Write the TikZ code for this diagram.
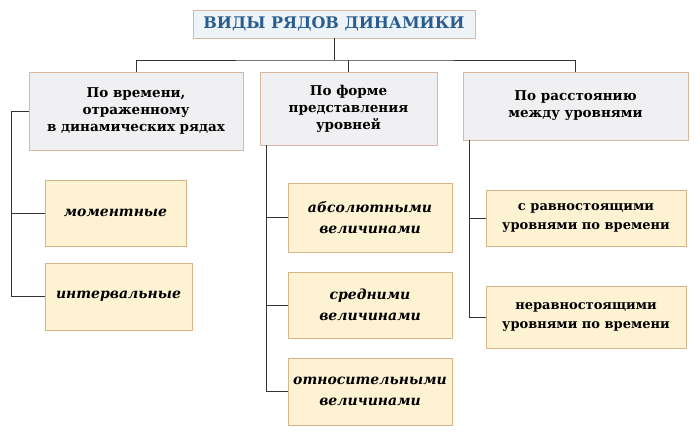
\documentclass[tikz,border=0pt]{standalone}
\usepackage{fontspec}
\setmainfont{DejaVu Serif}
\usetikzlibrary{positioning}
\definecolor{titleblue}{HTML}{2A5D8F}
\definecolor{titlefill}{HTML}{EEF3F7}
\definecolor{catfill}{HTML}{F0F0F2}
\definecolor{catline}{HTML}{D8B8A0}
\definecolor{leaffill}{HTML}{FDF3D2}
\definecolor{leafline}{HTML}{D8B48A}
\tikzset{
  titlebox/.style={draw=catline, fill=titlefill, text=titleblue, font=\bfseries\fontsize{16}{18}\selectfont,
    minimum width=282pt, minimum height=28pt, inner sep=0pt},
  catbox/.style={draw=catline, fill=catfill, font=\bfseries\fontsize{13.5}{17}\selectfont, align=center, inner sep=0pt},
  leafbox/.style={draw=leafline, fill=leaffill, font=\bfseries\itshape\fontsize{14}{21}\selectfont, align=center, inner sep=0pt},
  link/.style={draw=black!80, line width=0.8pt}
}
\begin{document}
\begin{tikzpicture}[x=1pt,y=-1pt]
  \useasboundingbox (0,0) rectangle (700,435);
  %% title
  \node[titlebox] (title) at (334,24) {ВИДЫ РЯДОВ ДИНАМИКИ};

  %% categories
  \node[catbox, minimum width=214pt, minimum height=78pt] (time) at (136,111)
    {По времени,\\отраженному\\в динамических рядах};
  \node[catbox, minimum width=177pt, minimum height=73pt] (form) at (348.5,108.5)
    {По форме\\представления\\уровней};
  \node[catbox, minimum width=225pt, minimum height=68pt] (dist) at (575.5,106)
    {По расстоянию\\между уровнями};

  %% leaves
  \node[leafbox, minimum width=141pt, minimum height=66pt] (moment) at (115.5,213) {моментные};
  \node[leafbox, minimum width=147pt, minimum height=67pt] (interval) at (118.5,296.5) {интервальные};

  \node[leafbox, minimum width=164pt, minimum height=69pt] (absval) at (370,217.5) {абсолютными\\величинами};
  \node[leafbox, minimum width=164pt, minimum height=66pt] (avgval) at (370,305) {средними\\величинами};
  \node[leafbox, minimum width=164pt, minimum height=67pt] (relval) at (370,391.5) {относительными\\величинами};

  \node[leafbox, font=\bfseries\fontsize{13}{19}\selectfont, minimum width=200pt, minimum height=56pt] (equal) at (586,218)
    {с равностоящими\\уровнями по времени};
  \node[leafbox, font=\bfseries\fontsize{13}{19}\selectfont, minimum width=200pt, minimum height=62pt] (unequal) at (586,317)
    {неравностоящими\\уровнями по времени};

  %% tree lines
  \coordinate (bus) at (334,60);
  \draw[link] (title.south) -- (bus);
  \draw[link] (time.north) |- (bus) -| (dist.north);
  \draw[link] (form.north) -- (form.north |- bus);

  \draw[link] (time.west) -- ++(-17,0) coordinate (tb) |- (interval.west);
  \draw[link] (moment.west) -- (moment.west -| tb);

  \coordinate (fb) at (266,145);
  \draw[link] (fb) |- (relval.west);
  \draw[link] (absval.west) -- (absval.west -| fb);
  \draw[link] (avgval.west) -- (avgval.west -| fb);

  \coordinate (db) at (469,140);
  \draw[link] (db) |- (unequal.west);
  \draw[link] (equal.west) -- (equal.west -| db);
\end{tikzpicture}
\end{document}
